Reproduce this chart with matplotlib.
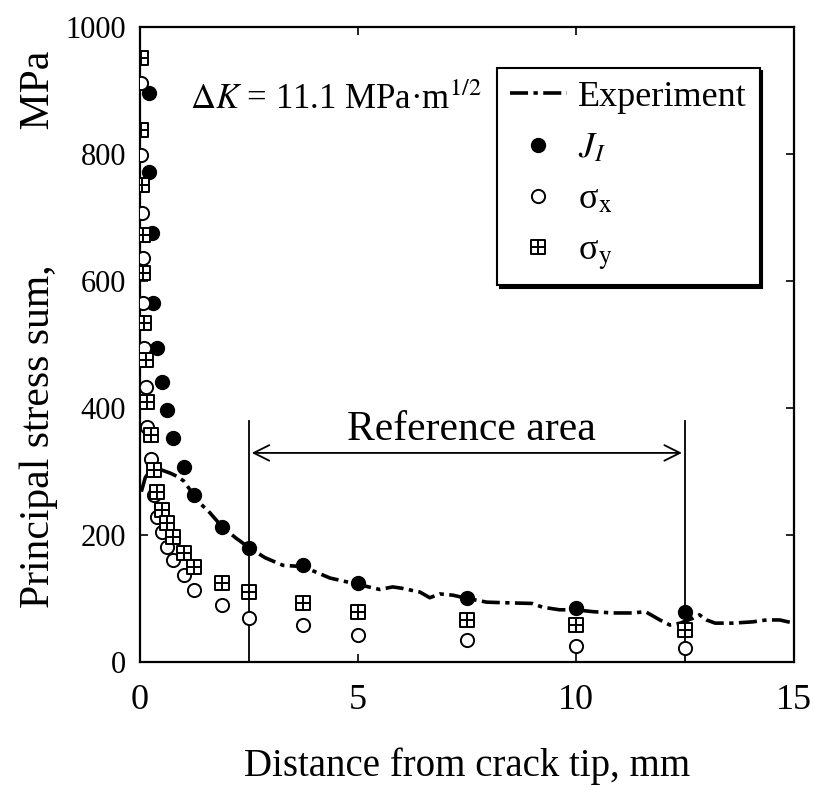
import numpy as np
import matplotlib
matplotlib.use('Agg')
import matplotlib.pyplot as plt
from matplotlib.path import Path

plt.rcParams['font.family'] = ['Liberation Serif', 'DejaVu Serif']
plt.rcParams['mathtext.fontset'] = 'stix'

exp_x = [0.03, 0.12, 0.25, 0.5, 0.7, 0.85, 1.0, 1.2, 1.3, 1.6, 1.88, 2.2, 2.5, 2.87, 3.28,
         3.74, 4.36, 5.0, 5.5, 5.8, 6.0, 6.42, 6.65, 6.88, 7.18, 7.5, 7.96, 8.42, 9.0, 9.24,
         9.63, 10.0, 10.4, 10.85, 11.3, 11.6, 11.93, 12.16, 12.4, 12.7, 12.84, 13.0, 13.2,
         13.6, 14.06, 14.38, 14.68, 15.0]
exp_y = [268, 290, 303, 302, 297, 292, 285, 266, 255, 235, 213, 195, 180, 164, 152,
         150, 132, 122, 114, 118, 116, 110, 101, 107, 105, 100, 94, 93, 92, 86,
         82, 82, 79, 77, 77, 79, 66, 58, 61, 69, 74, 66, 61,
         61, 63, 66, 66, 61]

# J_I
j_x = [0.2, 0.2, 0.28, 0.3, 0.4, 0.5, 0.62, 0.75, 1.0, 1.25, 1.88, 2.5, 3.75, 5.0, 7.5, 10.0, 12.5]
j_y = [896, 772, 676, 565, 494, 441, 397, 353, 307, 263, 213, 180, 153, 124, 101, 85, 79]

# sigma_x and sigma_y share the same node positions
s_x = [0.02, 0.03, 0.04, 0.06, 0.08, 0.1, 0.13, 0.17, 0.25, 0.31, 0.38, 0.5, 0.62, 0.75,
       1.0, 1.25, 1.88, 2.5, 3.75, 5.0, 7.5, 10.0, 12.5]
sx_y = [912, 798, 707, 636, 565, 494, 433, 370, 320, 262, 228, 205, 181, 161,
        137, 113, 90, 69, 58, 43, 35, 25, 22]
sy_y = [951, 838, 751, 672, 613, 534, 476, 409, 357, 302, 268, 239, 219, 197,
        172, 150, 124, 110, 93, 79, 66, 58, 50]

xticks = [0, 5, 10, 15]
yticks = [0, 200, 400, 600, 800, 1000]

# square with a cross inside
sq = Path([(-1, -1), (1, -1), (1, 1), (-1, 1), (-1, -1), (0, -1), (0, 1), (-1, 0), (1, 0)],
          [Path.MOVETO, Path.LINETO, Path.LINETO, Path.LINETO, Path.CLOSEPOLY,
           Path.MOVETO, Path.LINETO, Path.MOVETO, Path.LINETO])

fig = plt.figure(figsize=(8.14, 7.87), dpi=100)
ax = fig.add_axes([0.172, 0.159, 0.803, 0.807])

ax.plot(exp_x, exp_y, color='k', lw=2.6, ls=(0, (5, 1.5, 1.2, 1.5)), label='Experiment', zorder=2)
ax.plot(j_x, j_y, 'o', color='k', ms=10, label='$J_I$', zorder=3)
ax.plot(s_x, sx_y, 'o', mfc='white', mec='k', mew=1.4, ms=9.5, label=r'σ$_{\mathrm{x}}$', zorder=4)
ax.plot(s_x, sy_y, ls='none', marker=sq, mfc='white', mec='k', mew=1.4, ms=10,
        label=r'σ$_{\mathrm{y}}$', zorder=5)

# reference area
ax.plot([2.5, 2.5], [0, 380], color='k', lw=1.3, zorder=1)
ax.plot([12.5, 12.5], [0, 380], color='k', lw=1.3, zorder=1)
ax.annotate('', xy=(2.5, 329), xytext=(12.5, 329),
            arrowprops=dict(arrowstyle='<->', color='k', lw=1.3, mutation_scale=28))
ax.text(7.6, 365, 'Reference area', fontsize=30, ha='center', va='center')

ax.text(1.15, 885, r'$\mathit{\Delta K}$ = 11.1 MPa·m$^{1/2}$', fontsize=25, ha='left', va='center')

ax.set_xlim(0, 15)
ax.set_ylim(0, 1000)
ax.set_xticks(xticks)
ax.set_yticks(yticks)
ax.tick_params(direction='in', length=6, width=1.2, top=True, right=True)
ax.tick_params(axis='x', labelsize=26, pad=16)
ax.tick_params(axis='y', labelsize=22, pad=10)
for s in ax.spines.values():
    s.set_linewidth(1.6)

ax.set_xlabel('Distance from crack tip, mm', fontsize=28, labelpad=22)
ax.set_ylabel('Principal stress sum,             MPa', fontsize=30)
ax.yaxis.set_label_coords(-0.125, 0.523)

leg = ax.legend(loc='upper left', bbox_to_anchor=(0.546, 0.935), borderaxespad=0, fontsize=26,
                fancybox=False, shadow={'color': 'k', 'alpha': 1}, framealpha=1,
                edgecolor='k', handlelength=1.6, labelspacing=0.5, borderpad=0.35, handletextpad=0.3)
leg.get_frame().set_linewidth(1.5)

fig.savefig('out.png', dpi=100)
